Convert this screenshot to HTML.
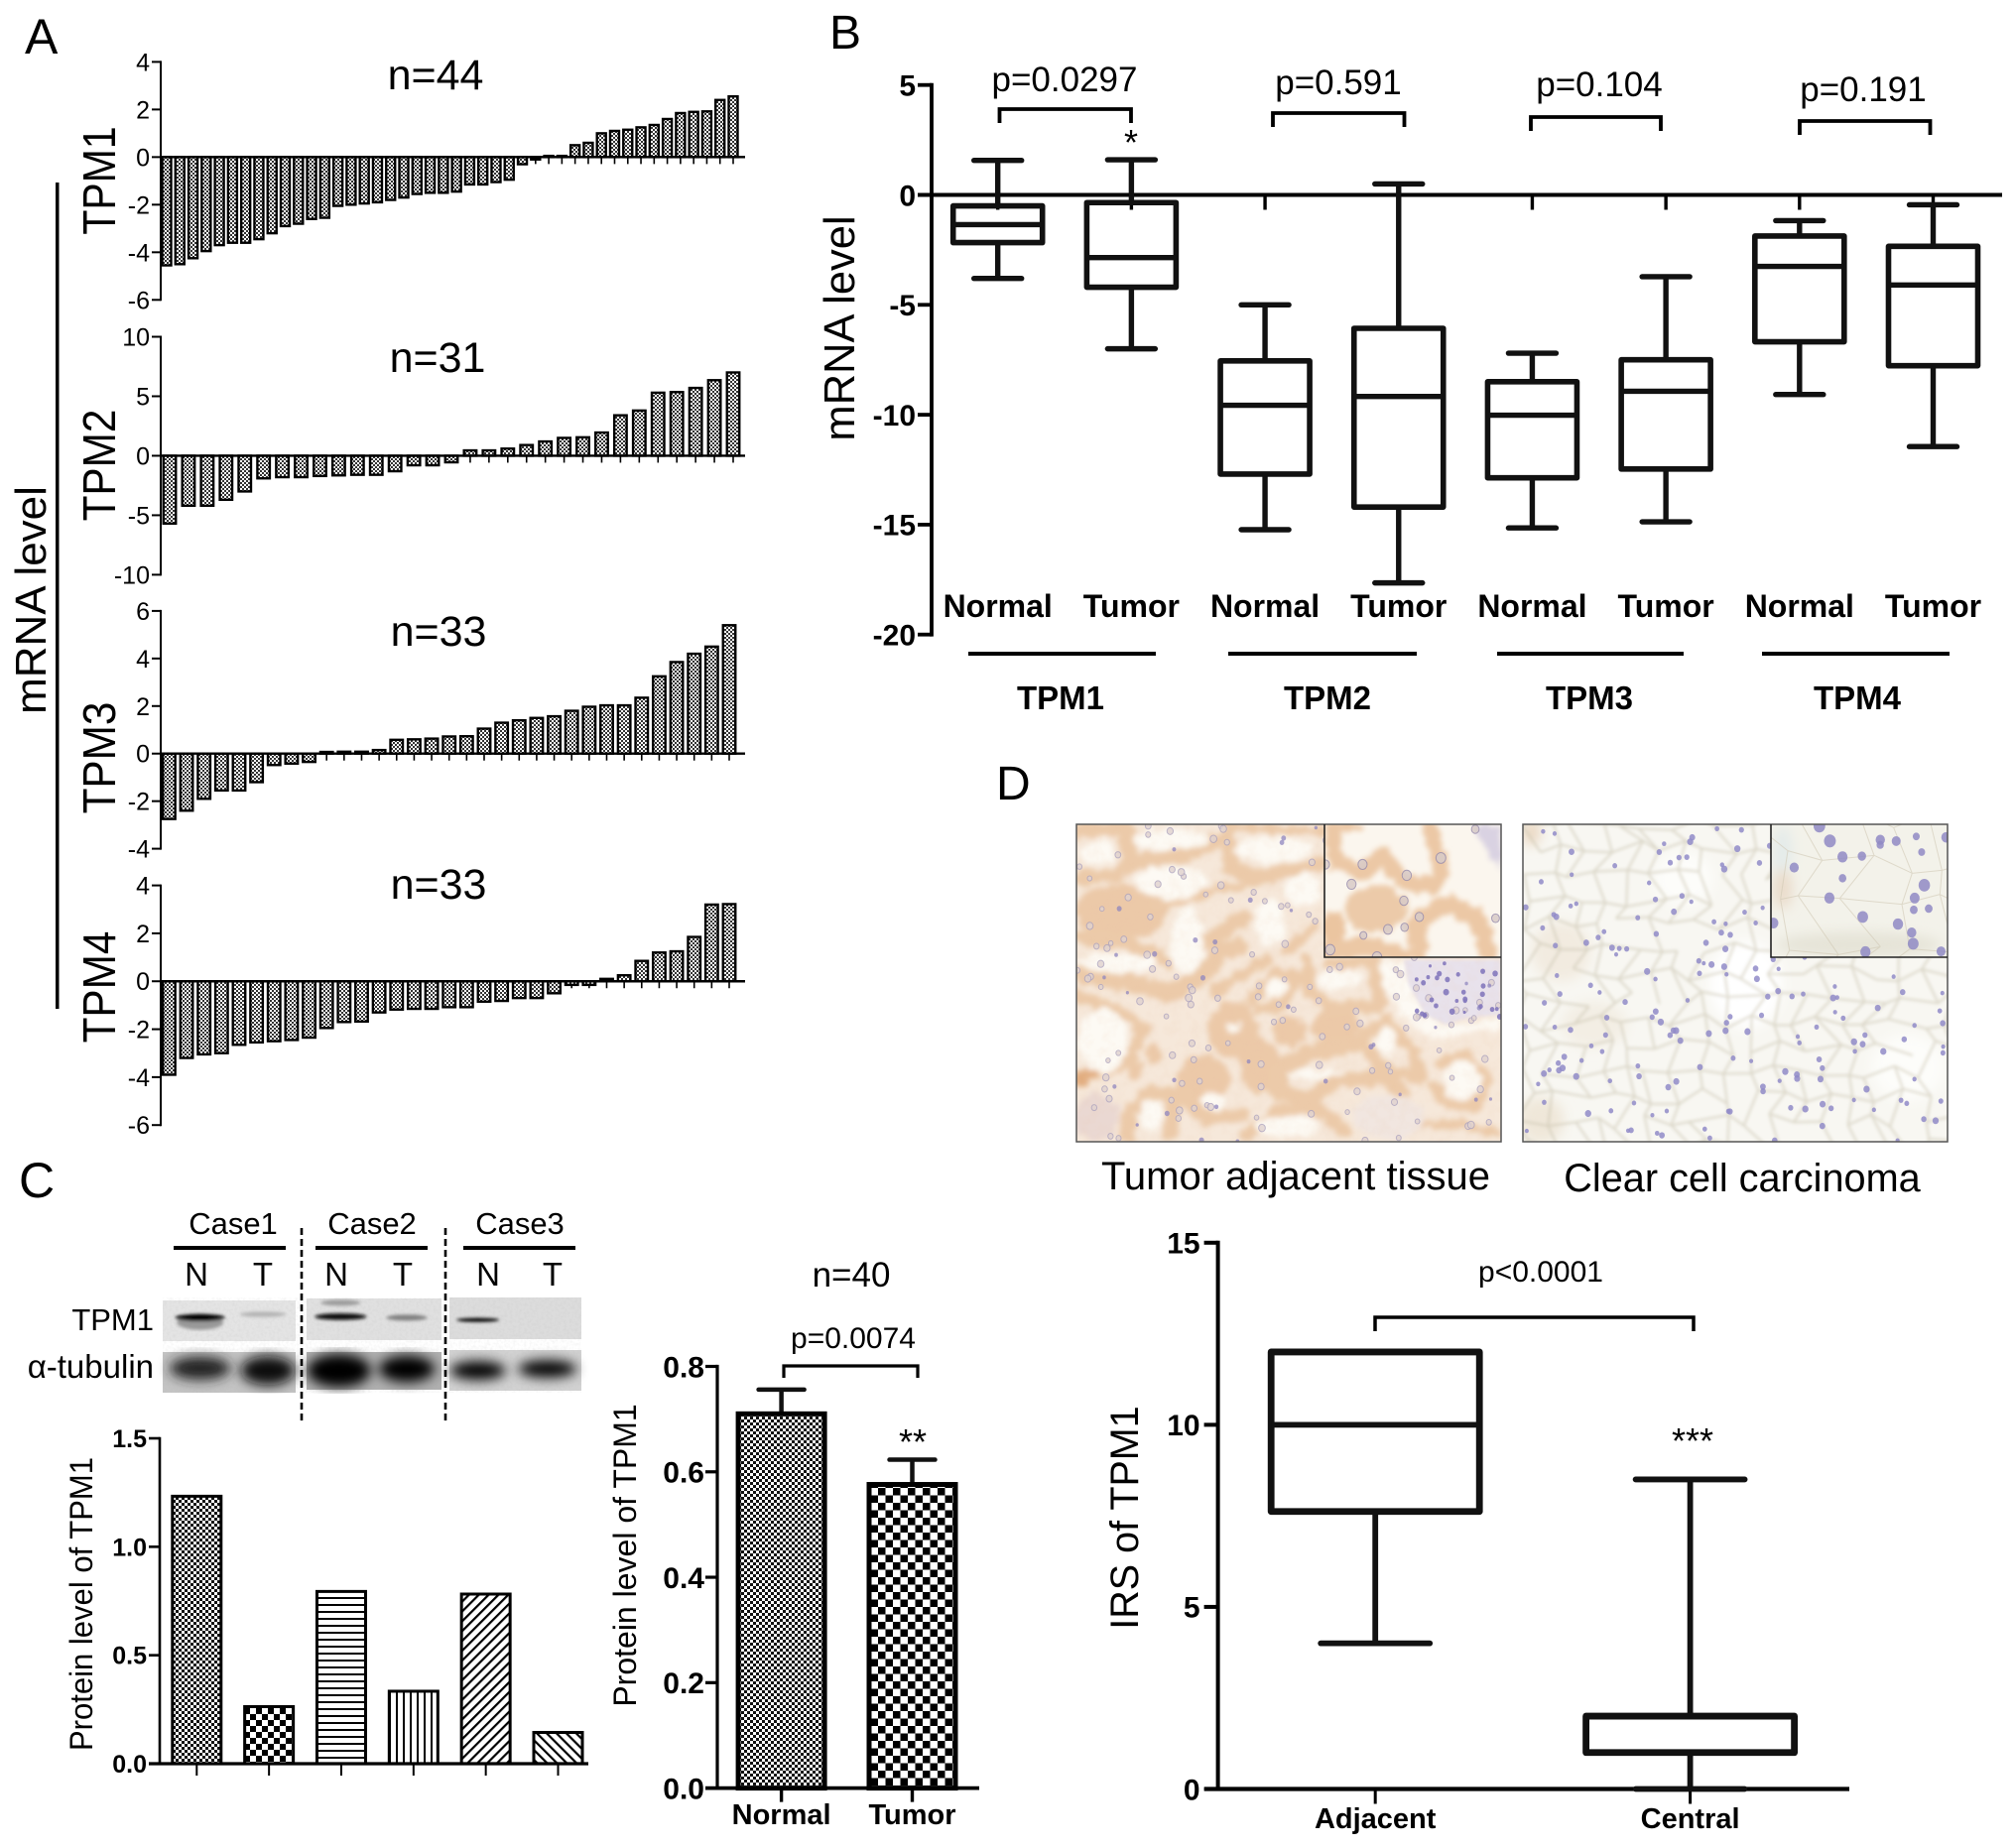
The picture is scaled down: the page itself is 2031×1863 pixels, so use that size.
<!DOCTYPE html>
<html lang="en">
<head>
<meta charset="utf-8">
<title>TPM expression figure</title>
<style>
html,body{margin:0;padding:0;background:#fff;width:2031px;height:1863px;overflow:hidden}
svg{display:block}
text{font-family:"Liberation Sans","DejaVu Sans",sans-serif;fill:#000}
.b{font-weight:bold}
</style>
</head>
<body>
<svg id="figure" width="2031" height="1863" viewBox="0 0 2031 1863">
<defs>
  <pattern id="pDot" width="4" height="4" patternUnits="userSpaceOnUse"><rect width="4" height="4" fill="#fff"/><rect width="2" height="2" fill="#333"/><rect x="2" y="2" width="2" height="2" fill="#333"/></pattern>
  <pattern id="pFine" width="6" height="6" patternUnits="userSpaceOnUse"><rect width="6" height="6" fill="#fff"/><rect width="3" height="3" fill="#111"/><rect x="3" y="3" width="3" height="3" fill="#111"/></pattern>
  <pattern id="pCheck" width="12" height="12" patternUnits="userSpaceOnUse"><rect width="12" height="12" fill="#fff"/><rect width="6" height="6" fill="#000"/><rect x="6" y="6" width="6" height="6" fill="#000"/></pattern>
  <pattern id="pCheckBig" width="15" height="15" patternUnits="userSpaceOnUse"><rect width="15" height="15" fill="#fff"/><rect width="7.5" height="7.5" fill="#000"/><rect x="7.5" y="7.5" width="7.5" height="7.5" fill="#000"/></pattern>
  <pattern id="pHoriz" width="7" height="7" patternUnits="userSpaceOnUse"><rect width="7" height="7" fill="#fff"/><rect width="7" height="2" fill="#000"/></pattern>
  <pattern id="pVert" width="7" height="7" patternUnits="userSpaceOnUse"><rect width="7" height="7" fill="#fff"/><rect width="2" height="7" fill="#000"/></pattern>
  <pattern id="pDiagUp" width="7" height="7" patternUnits="userSpaceOnUse" patternTransform="rotate(45)"><rect width="7" height="7" fill="#fff"/><rect width="2.2" height="7" fill="#000"/></pattern>
  <pattern id="pDiagDown" width="7" height="7" patternUnits="userSpaceOnUse" patternTransform="rotate(-45)"><rect width="7" height="7" fill="#fff"/><rect width="2.2" height="7" fill="#000"/></pattern>
  <filter id="blur1" x="-30%" y="-30%" width="160%" height="160%"><feGaussianBlur stdDeviation="1.1"/></filter>
  <filter id="blur2" x="-30%" y="-30%" width="160%" height="160%"><feGaussianBlur stdDeviation="2"/></filter>
  <filter id="blur5" x="-30%" y="-60%" width="160%" height="220%"><feGaussianBlur stdDeviation="4"/></filter>
  <filter id="blurZ" x="-5%" y="-5%" width="110%" height="110%"><feGaussianBlur stdDeviation="5"/></filter>
  <filter id="blurW" x="-5%" y="-5%" width="110%" height="110%"><feTurbulence type="fractalNoise" baseFrequency="0.035" numOctaves="2" seed="7" result="n"/><feDisplacementMap in="SourceGraphic" in2="n" scale="40" xChannelSelector="R" yChannelSelector="G"/><feGaussianBlur stdDeviation="8"/></filter>
  <filter id="blurZ2" x="-20%" y="-20%" width="140%" height="140%"><feGaussianBlur stdDeviation="18"/></filter>
  <filter id="texWarm" x="0" y="0" width="100%" height="100%"><feTurbulence type="fractalNoise" baseFrequency="0.09" numOctaves="3" seed="4"/><feColorMatrix values="0 0 0 0 0.80  0 0 0 0 0.55  0 0 0 0 0.38  1.6 0 0 0 -0.62"/></filter>
  <filter id="texGrey" x="0" y="0" width="100%" height="100%"><feTurbulence type="fractalNoise" baseFrequency="0.05" numOctaves="2" seed="9"/><feColorMatrix values="0 0 0 0 0.78  0 0 0 0 0.74  0 0 0 0 0.62  1.6 0 0 0 -0.68"/></filter>
  <filter id="texBlot" x="0" y="0" width="100%" height="100%"><feTurbulence type="fractalNoise" baseFrequency="0.35" numOctaves="2" seed="3"/><feColorMatrix values="0 0 0 0 0.45  0 0 0 0 0.45  0 0 0 0 0.45  1.6 0 0 0 -0.62"/></filter>
  <clipPath id="clipTissueA"><rect x="1085" y="831" width="428" height="320"/></clipPath>
  <clipPath id="clipTissueB"><rect x="1535" y="831" width="428" height="320"/></clipPath>
  <clipPath id="clipInsetA"><rect x="1335" y="831" width="178" height="134"/></clipPath>
  <clipPath id="clipInsetB"><rect x="1785" y="831" width="178" height="134"/></clipPath>
</defs>
<rect width="2031" height="1863" fill="#fff"/>

<!-- Panel letters -->
<text x="25" y="54" font-size="50">A</text>
<text x="836" y="49" font-size="48">B</text>
<text x="19" y="1207" font-size="50">C</text>
<text x="1004" y="806" font-size="48">D</text>

<!-- Panel A static -->
<g id="panelA">
  <rect x="56" y="184" width="3.5" height="833" fill="#000"/>
  <text transform="translate(46,605) rotate(-90)" text-anchor="middle" font-size="44">mRNA level</text>
  <text transform="translate(116,182) rotate(-90) scale(.89,1)" text-anchor="middle" font-size="46">TPM1</text>
  <text transform="translate(116,469) rotate(-90) scale(.92,1)" text-anchor="middle" font-size="46">TPM2</text>
  <text transform="translate(116,764) rotate(-90) scale(.92,1)" text-anchor="middle" font-size="46">TPM3</text>
  <text transform="translate(116,995) rotate(-90) scale(.92,1)" text-anchor="middle" font-size="46">TPM4</text>
  <text x="439" y="90" text-anchor="middle" font-size="43">n=44</text>
  <text x="441" y="375" text-anchor="middle" font-size="43">n=31</text>
  <text x="442" y="651" text-anchor="middle" font-size="43">n=33</text>
  <text x="442" y="906" text-anchor="middle" font-size="43">n=33</text>
</g>

<!-- Panel B static -->
<g id="panelB">
  <text transform="translate(861,331) rotate(-90)" text-anchor="middle" font-size="43.5">mRNA level</text>
  <text x="1073" y="92" text-anchor="middle" font-size="35">p=0.0297</text>
  <text x="1349" y="95" text-anchor="middle" font-size="35">p=0.591</text>
  <text x="1612" y="97" text-anchor="middle" font-size="35">p=0.104</text>
  <text x="1878" y="102" text-anchor="middle" font-size="35">p=0.191</text>
  <path d="M1007.5 124V110H1140V124" fill="none" stroke="#000" stroke-width="3.8"/>
  <path d="M1283 128V114H1415.5V128" fill="none" stroke="#000" stroke-width="3.8"/>
  <path d="M1543 132V118H1674V132" fill="none" stroke="#000" stroke-width="3.8"/>
  <path d="M1814 136V122H1945.5V136" fill="none" stroke="#000" stroke-width="3.8"/>
  <text x="1140" y="156" text-anchor="middle" font-size="36">*</text>
  <rect x="976" y="657" width="189" height="4" fill="#000"/>
  <rect x="1238" y="657" width="190" height="4" fill="#000"/>
  <rect x="1509" y="657" width="188" height="4" fill="#000"/>
  <rect x="1776" y="657" width="189" height="4" fill="#000"/>
  <text class="b" x="1069" y="715" text-anchor="middle" font-size="33">TPM1</text>
  <text class="b" x="1338" y="715" text-anchor="middle" font-size="33">TPM2</text>
  <text class="b" x="1602" y="715" text-anchor="middle" font-size="33">TPM3</text>
  <text class="b" x="1872" y="715" text-anchor="middle" font-size="33">TPM4</text>
</g>

<!-- Panel C western blot -->
<g>
  <text x="235" y="1244" text-anchor="middle" font-size="31">Case1</text>
  <text x="375" y="1244" text-anchor="middle" font-size="31">Case2</text>
  <text x="524" y="1244" text-anchor="middle" font-size="31">Case3</text>
  <rect x="175" y="1256" width="113" height="4" fill="#000"/>
  <rect x="318" y="1256" width="113" height="4" fill="#000"/>
  <rect x="467" y="1256" width="113" height="4" fill="#000"/>
  <text x="198" y="1296" text-anchor="middle" font-size="33">N</text>
  <text x="265" y="1296" text-anchor="middle" font-size="33">T</text>
  <text x="339" y="1296" text-anchor="middle" font-size="33">N</text>
  <text x="406" y="1296" text-anchor="middle" font-size="33">T</text>
  <text x="492" y="1296" text-anchor="middle" font-size="33">N</text>
  <text x="557" y="1296" text-anchor="middle" font-size="33">T</text>
  <text x="155" y="1341" text-anchor="end" font-size="31">TPM1</text>
  <text x="155" y="1389" text-anchor="end" font-size="33">α-tubulin</text>
  <rect x="164" y="1311" width="134" height="41" fill="#e4e4e4"/>
  <rect x="309" y="1309" width="136" height="42" fill="#e0e0e0"/>
  <rect x="453" y="1308" width="133" height="42" fill="#dcdcdc"/>
  <rect x="164" y="1363" width="134" height="41" fill="#c4c4c4"/>
  <rect x="309" y="1363" width="136" height="38" fill="#b0b0b0"/>
  <rect x="453" y="1361" width="133" height="41" fill="#d2d2d2"/>
  <rect x="164" y="1308" width="422" height="96" filter="url(#texBlot)" opacity=".18"/>
  <g transform="translate(160,1300) scale(.33333)" filter="url(#blurZ)">
    <ellipse cx="125" cy="100" rx="70" ry="22" fill="#999"/>
    <ellipse cx="125" cy="85" rx="75" ry="11" fill="#000"/>
    <ellipse cx="315" cy="75" rx="70" ry="8" fill="#b4b4b4"/>
    <ellipse cx="550" cy="82" rx="78" ry="10" fill="#0c0c0c"/>
    <ellipse cx="550" cy="40" rx="60" ry="9" fill="#9c9c9c"/>
    <ellipse cx="750" cy="85" rx="62" ry="9" fill="#808080"/>
    <ellipse cx="965" cy="92" rx="65" ry="6" fill="#000"/>
  </g>
  <g transform="translate(160,1300) scale(.33333)" filter="url(#blurZ2)">
    <ellipse cx="125" cy="238" rx="92" ry="35" fill="#222"/>
    <ellipse cx="330" cy="245" rx="82" ry="44" fill="#0c0c0c"/>
    <ellipse cx="545" cy="245" rx="96" ry="50" fill="#000"/>
    <ellipse cx="750" cy="240" rx="84" ry="40" fill="#000"/>
    <ellipse cx="965" cy="245" rx="84" ry="28" fill="#000"/>
    <ellipse cx="1175" cy="240" rx="88" ry="26" fill="#000"/>
  </g>
  <line x1="304" y1="1238" x2="304" y2="1434" stroke="#000" stroke-width="2.6" stroke-dasharray="7 4"/>
  <line x1="449" y1="1238" x2="449" y2="1434" stroke="#000" stroke-width="2.6" stroke-dasharray="7 4"/>
</g>

<!-- Panel C charts static -->
<g id="chartCaseBars">
  <text transform="translate(93,1617) rotate(-90) scale(.97,1)" text-anchor="middle" font-size="32">Protein level of TPM1</text>
</g>
<g id="chartCohortBars">
  <text transform="translate(641,1568) rotate(-90)" text-anchor="middle" font-size="32">Protein level of TPM1</text>
  <text x="858" y="1297" text-anchor="middle" font-size="35">n=40</text>
  <text x="860" y="1359" text-anchor="middle" font-size="30">p=0.0074</text>
  <path d="M790 1389V1377H925V1389" fill="none" stroke="#000" stroke-width="3.2"/>
  <text x="920" y="1466" text-anchor="middle" font-size="36">**</text>
</g>

<!-- Panel D tissue images -->
<g id="tissue">
  <g clip-path="url(#clipTissueA)">
    <rect x="1085" y="831" width="428" height="320" fill="#f6e8da"/>
    <g transform="translate(1080,826) scale(.33333)" filter="url(#blurW)">
      <g fill="#ecc9a8">
        <ellipse cx="150" cy="280" rx="140" ry="82"/>
        <ellipse cx="490" cy="640" rx="78" ry="85"/>
        <ellipse cx="800" cy="625" rx="72" ry="55"/>
        <ellipse cx="660" cy="640" rx="52" ry="45"/>
        <ellipse cx="400" cy="785" rx="82" ry="72"/>
        <ellipse cx="570" cy="745" rx="62" ry="82"/>
        <ellipse cx="195" cy="760" rx="24" ry="26"/>
        <ellipse cx="250" cy="710" rx="26" ry="28"/>
      </g>
      <g fill="none" stroke="#eccaa9" stroke-width="44" stroke-linecap="round" stroke-linejoin="round">
        <path d="M15 30C60 40 120 25 170 30"/>
        <path d="M155 20L175 100L200 130L340 110L440 60"/>
        <path d="M15 180L130 170L190 130"/>
        <path d="M30 355L170 375L290 430"/>
        <path d="M470 50L485 150L560 175L750 135"/>
        <path d="M480 22L760 35" stroke-width="26"/>
        <path d="M250 262L340 250L440 210L560 195" stroke-width="24"/>
        <path d="M400 380L500 310L520 295"/>
        <path d="M30 470L170 495L300 525L400 470L450 400L510 385" stroke-width="52"/>
        <path d="M15 530L130 575L220 630L170 740L20 790" stroke-width="34"/>
        <path d="M430 520C470 500 530 470 590 420" stroke-width="36"/>
        <path d="M540 550L620 460L685 480L640 560L570 575" stroke-width="36"/>
        <path d="M710 430L720 520L780 570L930 565L920 430L780 435" stroke-width="38"/>
        <path d="M650 400L740 320" stroke-width="30"/>
        <path d="M885 650L950 610L1030 700L1060 785L930 750L885 680" stroke-width="38"/>
        <path d="M620 820L640 745L720 705L860 680" stroke-width="52"/>
        <path d="M620 825L720 845L800 785L960 780L1000 830" stroke-width="50"/>
        <path d="M180 880L240 825L310 840L300 950"/>
        <path d="M175 890L170 960" />
        <path d="M330 830L420 905L520 890"/>
        <path d="M530 955L620 885L740 870L830 945" stroke-width="40"/>
        <path d="M1110 740L1180 712L1260 780L1230 870L1130 860L1095 800" stroke-width="30"/>
        <path d="M1000 925L1150 920L1298 950" stroke-width="26"/>
        <path d="M15 790L60 760" stroke-width="40" stroke="#e2ad80"/>
      </g>
      <g fill="#fdfaf4">
        <ellipse cx="80" cy="100" rx="50" ry="38"/>
        <ellipse cx="300" cy="60" rx="115" ry="32"/>
        <ellipse cx="610" cy="90" rx="120" ry="38"/>
        <ellipse cx="300" cy="190" rx="110" ry="50"/>
        <ellipse cx="350" cy="370" rx="50" ry="100"/>
        <ellipse cx="600" cy="310" rx="45" ry="70"/>
        <ellipse cx="700" cy="215" rx="55" ry="50"/>
        <ellipse cx="140" cy="435" rx="120" ry="30"/>
        <ellipse cx="95" cy="670" rx="75" ry="100"/>
        <ellipse cx="620" cy="510" rx="35" ry="30"/>
        <ellipse cx="810" cy="485" rx="70" ry="30"/>
        <ellipse cx="950" cy="670" rx="30" ry="45"/>
        <ellipse cx="1180" cy="790" rx="55" ry="60"/>
        <ellipse cx="240" cy="890" rx="35" ry="50"/>
        <ellipse cx="430" cy="850" rx="40" ry="25"/>
        <ellipse cx="650" cy="930" rx="100" ry="30"/>
        <ellipse cx="740" cy="770" rx="90" ry="14"/>
        <ellipse cx="490" cy="632" rx="22" ry="16"/>
        <path d="M925 430L1000 430L1030 510L1080 590L1140 625L1298 600V640L1090 660L1020 620L960 540Z"/>
      </g>
      <ellipse cx="75" cy="900" rx="70" ry="70" fill="#ead8d2"/>
      <ellipse cx="960" cy="900" rx="110" ry="65" fill="#f1e6e0"/>
    </g>
    <path transform="translate(1080,826) scale(.33333)" d="M1005 425H1298V590L1200 600L1130 620L1070 590L1020 500Z" fill="#e8e2ec" filter="url(#blurZ)"/>
    <rect x="1085" y="831" width="428" height="320" filter="url(#texWarm)" opacity=".14"/>
    <g id="nucleiA"></g>
  </g>
  <g clip-path="url(#clipTissueB)">
    <rect x="1535" y="831" width="428" height="320" fill="#f8f7f2"/>
    <g transform="translate(1530,826) scale(.33333)" filter="url(#blurZ2)">
      <ellipse cx="690" cy="500" rx="110" ry="130" fill="#ffffff"/>
      <ellipse cx="1180" cy="750" rx="110" ry="100" fill="#fdfdfa"/>
      <ellipse cx="500" cy="180" rx="90" ry="80" fill="#fdfdfa"/>
      <ellipse cx="130" cy="400" rx="90" ry="90" fill="#f2ebe0"/>
      <ellipse cx="230" cy="620" rx="100" ry="70" fill="#f3eee4"/>
      <ellipse cx="70" cy="910" rx="70" ry="70" fill="#efe7d9"/>
      <ellipse cx="40" cy="40" rx="30" ry="40" fill="#ebd9c4"/>
    </g>
    <g id="membranesB" transform="translate(1530,826) scale(.33333)" filter="url(#blurZ)"></g>
    <g id="nucleiB"></g>
  </g>
  <g clip-path="url(#clipInsetA)">
    <rect x="1335" y="831" width="178" height="134" fill="#fbf6ee"/>
    <g transform="translate(1080,826) scale(.33333)" filter="url(#blurW)">
      <ellipse cx="920" cy="270" rx="92" ry="72" fill="#eccaa9"/>
      <ellipse cx="790" cy="330" rx="42" ry="50" fill="#ebc5a0"/>
      <g fill="none" stroke="#ecc8a5" stroke-width="48" stroke-linecap="round" stroke-linejoin="round">
        <path d="M790 30L800 130L880 165L940 105L1000 185L1090 205L1120 160L1085 30"/>
        <path d="M790 25L870 25" stroke-width="24"/>
        <path d="M770 400L900 385L1000 415" stroke-width="56"/>
        <path d="M1050 405L1040 315L1130 255L1225 295L1260 405" stroke-width="54"/>
      </g>
      <path d="M1215 15H1298V150L1250 90Z" fill="#d9d2e2"/>
    </g>
    <g id="nucleiAI"></g>
  </g>
  <g clip-path="url(#clipInsetB)">
    <rect x="1785" y="831" width="178" height="134" fill="#f3f2ea"/>
    <g transform="translate(1530,826) scale(.33333)" filter="url(#blurZ2)">
      <ellipse cx="800" cy="100" rx="30" ry="80" fill="#e4ebea"/>
      <ellipse cx="800" cy="210" rx="30" ry="60" fill="#eadccb"/>
      <ellipse cx="1030" cy="380" rx="250" ry="40" fill="#e6e4d8"/>
    </g>
    <g id="membranesBI" transform="translate(1530,826) scale(.33333)"></g>
    <g id="nucleiBI"></g>
  </g>
  <rect x="1085" y="831" width="428" height="320" fill="none" stroke="#555" stroke-width="1.5"/>
  <rect x="1535" y="831" width="428" height="320" fill="none" stroke="#555" stroke-width="1.5"/>
  <path d="M1335 831V965H1513" fill="none" stroke="#222" stroke-width="1.6"/>
  <path d="M1785 831V965H1963" fill="none" stroke="#222" stroke-width="1.6"/>
  <text x="1306" y="1199" text-anchor="middle" font-size="40">Tumor adjacent tissue</text>
  <text x="1756" y="1201" text-anchor="middle" font-size="39.7">Clear cell carcinoma</text>
</g>

<!-- Panel D box chart static -->
<g id="chartIrs">
  <text transform="translate(1147,1530) rotate(-90)" text-anchor="middle" font-size="39.5">IRS of TPM1</text>
  <text x="1553" y="1292" text-anchor="middle" font-size="30">p&lt;0.0001</text>
  <path d="M1386 1342V1328H1707V1342" fill="none" stroke="#000" stroke-width="3.5"/>
  <text x="1706" y="1465" text-anchor="middle" font-size="36">***</text>
</g>

<script>
/* Panel A: sorted expression values */
const tpm1Values = [-4.55,-4.5,-4.25,-3.95,-3.7,-3.6,-3.6,-3.45,-3.2,-2.9,-2.8,-2.6,-2.55,-2.05,-2.0,-1.95,-1.9,-1.8,-1.7,-1.55,-1.5,-1.5,-1.45,-1.15,-1.15,-1.05,-0.95,-0.3,-0.1,0.05,0.05,0.5,0.6,1.0,1.1,1.15,1.25,1.35,1.6,1.85,1.9,1.92,2.4,2.55];
const tpm2Values = [-5.7,-4.2,-4.2,-3.7,-3.0,-1.9,-1.8,-1.8,-1.7,-1.65,-1.6,-1.6,-1.3,-0.8,-0.8,-0.55,0.45,0.45,0.6,0.9,1.2,1.5,1.55,1.95,3.4,3.8,5.3,5.35,5.7,6.35,7.0];
const tpm3Values = [-2.75,-2.4,-1.9,-1.55,-1.55,-1.2,-0.48,-0.42,-0.35,0.07,0.08,0.08,0.15,0.58,0.6,0.63,0.72,0.73,1.05,1.3,1.4,1.5,1.57,1.8,1.97,2.03,2.03,2.35,3.25,3.85,4.2,4.5,5.4];
const tpm4Values = [-3.9,-3.2,-3.05,-3.0,-2.65,-2.55,-2.5,-2.45,-2.35,-1.95,-1.7,-1.68,-1.3,-1.18,-1.15,-1.15,-1.08,-1.08,-0.85,-0.82,-0.7,-0.7,-0.5,-0.15,-0.15,0.1,0.25,0.85,1.2,1.25,1.85,3.2,3.22];
const tpm1Ticks = [4,2,0,-2,-4,-6];
const tpm2Ticks = [10,5,0,-5,-10];
const tpm3Ticks = [6,4,2,0,-2,-4];
const tpm4Ticks = [4,2,0,-2,-4,-6];

/* Panel B: box plot statistics */
const mrnaCategories = ['Normal','Tumor','Normal','Tumor','Normal','Tumor','Normal','Tumor'];
const mrnaHigh   = [1.57,1.6,-5.0,0.5,-7.2,-3.72,-1.17,-0.45];
const mrnaQ3     = [-0.5,-0.35,-7.55,-6.07,-8.5,-7.5,-1.87,-2.34];
const mrnaMedian = [-1.35,-2.85,-9.57,-9.17,-10.02,-8.93,-3.25,-4.1];
const mrnaQ1     = [-2.17,-4.2,-12.7,-14.2,-12.87,-12.47,-6.68,-7.77];
const mrnaLow    = [-3.8,-7.0,-15.23,-17.65,-15.15,-14.87,-9.08,-11.45];
const mrnaTicks  = [5,0,-5,-10,-15,-20];

/* Panel C: case bars */
const caseValues = [1.233,0.263,0.794,0.334,0.782,0.144];
const caseFills  = ['pFine','pCheck','pHoriz','pVert','pDiagUp','pDiagDown'];
const caseTicks  = [1.5,1.0,0.5,0.0];

/* Panel C: cohort bars */
const cohortCategories = ['Normal','Tumor'];
const cohortMeans = [0.71,0.576];
const cohortUpper = [0.756,0.623];
const cohortFills = ['pFine','pCheckBig'];
const cohortTicks = [0.8,0.6,0.4,0.2,0.0];

/* Panel D: IRS box plot */
const irsCategories = ['Adjacent','Central'];
const irsHigh   = [12,8.5];
const irsQ3     = [12,2];
const irsMedian = [10,1];
const irsQ1     = [7.62,1];
const irsLow    = [4,0];
const irsTicks  = [15,10,5,0];

const svgRoot = document.getElementById('figure');
function mk(tag, parent, attrs) {
  const el = document.createElementNS(svgRoot.namespaceURI, tag);
  for (const k in attrs) el.setAttribute(k, attrs[k]);
  parent.appendChild(el);
  return el;
}
function linear(d0, d1, r0, r1) { return v => r0 + (v - d0) * (r1 - r0) / (d1 - d0); }
function band(n, first, last) { return i => n > 1 ? first + i * (last - first) / (n - 1) : first; }

function drawYAxis(g, ticks, y, o) {
  const ends = [y(ticks[0]), y(ticks[ticks.length - 1])];
  const axis = mk('line', g, {x1:o.x, x2:o.x, y1:ends[0] - o.w / 2, y2:ends[1] + o.w / 2, stroke:'#000', 'stroke-width':o.w});
  
  
  ticks.forEach(t => {
    const tk = mk('line', g, {x1:o.x - o.tick, x2:o.x, y1:y(t), y2:y(t), stroke:'#000', 'stroke-width':o.w});
    
    
    const lb = mk('text', g, {x:o.x - o.tick - o.gap, y:y(t) + o.font * 0.36, 'text-anchor':'end', 'font-size':o.font, 'font-weight':o.bold ? 'bold' : 'normal'});
    
    
    lb.textContent = o.digits ? t.toFixed(o.digits) : String(t);
  });
}
function drawXAxis(g, y0, x0, x1, w) {
  const axis = mk('line', g, {x1:x0, x2:x1, y1:y0, y2:y0, stroke:'#000', 'stroke-width':w});
  
  
}
function drawXTick(g, x, y0, len, w) {
  const tk = mk('line', g, {x1:x, x2:x, y1:y0, y2:y0 + len, stroke:'#000', 'stroke-width':w});
  
  
}
function drawXLabel(g, x, yBase, label, size) {
  const lb = mk('text', g, {x:x, y:yBase, 'text-anchor':'middle', 'font-size':size, 'font-weight':'bold'});
  
  
  lb.textContent = label;
}
function drawBar(g, cx, width, y, value, fill, sw) {
  const a = y(0), b = y(value);
  const bar = mk('rect', g, {x:cx - width / 2, y:Math.min(a, b), width:width, height:Math.abs(a - b), fill:'url(#' + fill + ')', stroke:'#000', 'stroke-width':sw});
  
  
}
function drawWaterfall(parentId, values, ticks, o) {
  const g = mk('g', document.getElementById(parentId), {});
  
  
  const y = linear(ticks[0], ticks[ticks.length - 1], o.top, o.bottom);
  const x = band(values.length, o.first, o.last);
  values.forEach((v, i) => drawXTick(g, x(i), y(0), 7, 1.6));
  drawYAxis(g, ticks, y, {x:162, w:2, tick:9, gap:2, font:25, bold:false});
  values.forEach((v, i) => drawBar(g, x(i), o.barW, y, v, 'pDot', 2.4));
  drawXAxis(g, y(0), 162, 751, 2.4);
}
function drawBoxMark(g, cx, hw, capHw, y, hi, q3, med, q1, lo, sw, swBox) {
  const whiskerTop = mk('line', g, {x1:cx, x2:cx, y1:y(hi), y2:y(q3), stroke:'#111', 'stroke-width':sw});
  
  
  const whiskerBottom = mk('line', g, {x1:cx, x2:cx, y1:y(q1), y2:y(lo), stroke:'#111', 'stroke-width':sw});
  
  
  const capTop = mk('line', g, {x1:cx - capHw, x2:cx + capHw, y1:y(hi), y2:y(hi), stroke:'#111', 'stroke-width':sw, 'stroke-linecap':'round'});
  
  
  const capBottom = mk('line', g, {x1:cx - capHw, x2:cx + capHw, y1:y(lo), y2:y(lo), stroke:'#111', 'stroke-width':sw, 'stroke-linecap':'round'});
  
  
  const box = mk('rect', g, {x:cx - hw, y:y(q3), width:hw * 2, height:y(q1) - y(q3), fill:'none', stroke:'#111', 'stroke-width':swBox, 'stroke-linejoin':'round'});
  
  
  const median = mk('line', g, {x1:cx - hw, x2:cx + hw, y1:y(med), y2:y(med), stroke:'#111', 'stroke-width':sw});
  
  
}

/* Panel A */
drawWaterfall('panelA', tpm1Values, tpm1Ticks, {top:62.4, bottom:302.3, first:168, last:739, barW:9});
drawWaterfall('panelA', tpm2Values, tpm2Ticks, {top:339.5, bottom:579.4, first:171, last:739, barW:12.5});
drawWaterfall('panelA', tpm3Values, tpm3Ticks, {top:615.9, bottom:855.6, first:170.4, last:735, barW:12.5});
drawWaterfall('panelA', tpm4Values, tpm4Ticks, {top:892.6, bottom:1134.2, first:170.4, last:735, barW:12.5});

/* Panel B */
(function () {
  const g = document.getElementById('panelB');
  const y = linear(5, -20, 85.7, 639.7);
  const x = band(mrnaCategories.length, 1005.7, 1948.5);
  drawYAxis(g, mrnaTicks, y, {x:939, w:3.8, tick:14, gap:2, font:30, bold:true});
  drawXAxis(g, y(0), 925, 2018, 4);
  mrnaCategories.forEach((c, i) => {
    drawXTick(g, x(i), y(0), 15, 3.4);
    drawBoxMark(g, x(i), 45, 24, y, mrnaHigh[i], mrnaQ3[i], mrnaMedian[i], mrnaQ1[i], mrnaLow[i], 5.4, 5.6);
    drawXLabel(g, x(i), 622, c, 32);
  });
})();

/* Panel C: case bars */
(function () {
  const g = document.getElementById('chartCaseBars');
  const y = linear(0, 1.5, 1778, 1450);
  const x = band(caseValues.length, 198.3, 562.5);
  caseValues.forEach((v, i) => drawXTick(g, x(i), y(0), 12, 2));
  caseValues.forEach((v, i) => drawBar(g, x(i), 49, y, v, caseFills[i], 3));
  drawYAxis(g, caseTicks, y, {x:161, w:2.6, tick:11, gap:2, font:25, bold:true, digits:1});
  drawXAxis(g, y(0), 150, 593, 3.2);
})();

/* Panel C: cohort bars */
(function () {
  const g = document.getElementById('chartCohortBars');
  const y = linear(0, 0.8, 1802.6, 1377.5);
  const x = band(cohortMeans.length, 787.6, 919.5);
  cohortMeans.forEach((v, i) => {
    const stem = mk('line', g, {x1:x(i), x2:x(i), y1:y(cohortUpper[i]), y2:y(v), stroke:'#111', 'stroke-width':4.5});
    
    
    const cap = mk('line', g, {x1:x(i) - 23, x2:x(i) + 23, y1:y(cohortUpper[i]), y2:y(cohortUpper[i]), stroke:'#111', 'stroke-width':4.5, 'stroke-linecap':'round'});
    
    
    drawXTick(g, x(i), y(0), 14, 3.4);
    drawBar(g, x(i), 87, y, v, cohortFills[i], 5);
    drawXLabel(g, x(i), 1839, cohortCategories[i], 29);
  });
  drawYAxis(g, cohortTicks, y, {x:723, w:3.2, tick:12, gap:1, font:30, bold:true, digits:1});
  drawXAxis(g, y(0), 711, 987, 3.8);
})();

/* Panel D: box plot */
(function () {
  const g = document.getElementById('chartIrs');
  const y = linear(0, 15, 1803.5, 1252.8);
  const x = band(irsCategories.length, 1386.2, 1703.6);
  drawYAxis(g, irsTicks, y, {x:1227.6, w:4, tick:14, gap:4, font:30, bold:true});
  drawXAxis(g, y(0), 1214, 1864, 4.2);
  irsCategories.forEach((c, i) => {
    drawXTick(g, x(i), y(0), 15, 3);
    drawBoxMark(g, x(i), 105, 55, y, irsHigh[i], irsQ3[i], irsMedian[i], irsQ1[i], irsLow[i], 5.8, 6.8);
    drawXLabel(g, x(i), 1843, c, 29);
  });
})();

/* Decorative texture in the tissue photographs (seeded scatter, not data) */
(function () {
  let seed = 48271;
  function rnd() { seed = (seed * 16807) % 2147483647; return seed / 2147483647; }
  function scatter(id, x0, y0, w, h, count, rMin, rMax, fill, stroke, opacity) {
    const g = document.getElementById(id);
    for (let i = 0; i < count; i++) {
      const r = rMin + rnd() * (rMax - rMin);
      const n = mk('ellipse', g, {cx:x0 + rnd() * w, cy:y0 + rnd() * h, rx:r, ry:r * 1.1, fill:fill, stroke:stroke, 'stroke-width':1, opacity:opacity});
      
      
    }
  }
  function membranes(id, x0, y0, x1, y1, cell, color, sw) {
    const g = document.getElementById(id);
    const cols = Math.ceil((x1 - x0) / cell) + 1, rows = Math.ceil((y1 - y0) / cell) + 1;
    const pt = [];
    for (let r = 0; r <= rows; r++) {
      pt[r] = [];
      for (let c = 0; c <= cols; c++) {
        pt[r][c] = [x0 + c * cell + (r % 2) * cell / 2 + (rnd() - 0.5) * cell * 0.7, y0 + r * cell + (rnd() - 0.5) * cell * 0.7];
      }
    }
    let d = '';
    for (let r = 0; r <= rows; r++) {
      for (let c = 0; c <= cols; c++) {
        const p = pt[r][c];
        if (c < cols && rnd() > 0.12) d += 'M' + p[0].toFixed(0) + ' ' + p[1].toFixed(0) + 'L' + pt[r][c + 1][0].toFixed(0) + ' ' + pt[r][c + 1][1].toFixed(0);
        if (r < rows && rnd() > 0.12) d += 'M' + p[0].toFixed(0) + ' ' + p[1].toFixed(0) + 'L' + pt[r + 1][c][0].toFixed(0) + ' ' + pt[r + 1][c][1].toFixed(0);
      }
    }
    const net = mk('path', g, {d:d, fill:'none', stroke:color, 'stroke-width':sw, opacity:0.6});
    
    
  }
  membranes('membranesB', 15, 15, 1300, 975, 75, '#c8c2ae', 6);
  membranes('membranesBI', 765, 15, 1300, 418, 120, '#d0c8b4', 3);
  scatter('nucleiA', 1085, 831, 428, 320, 150, 2.2, 3.4, '#e0d2cf', '#aea4be', 0.8);
  scatter('nucleiA', 1085, 831, 428, 320, 35, 1.5, 2.6, '#8f86bf', 'none', 0.75);
  scatter('nucleiA', 1420, 970, 93, 56, 30, 1.5, 3, '#8479bd', 'none', 0.9);
  scatter('nucleiB', 1535, 831, 428, 320, 210, 2, 3.2, '#908bc8', 'none', 0.85);
  scatter('nucleiAI', 1335, 831, 178, 134, 14, 3.5, 5, '#d8cbc8', '#9a8fae', 0.85);
  scatter('nucleiBI', 1785, 831, 178, 134, 24, 3.5, 6, '#8f8ac4', 'none', 0.85);
})();
</script>
</svg>
</body>
</html>
